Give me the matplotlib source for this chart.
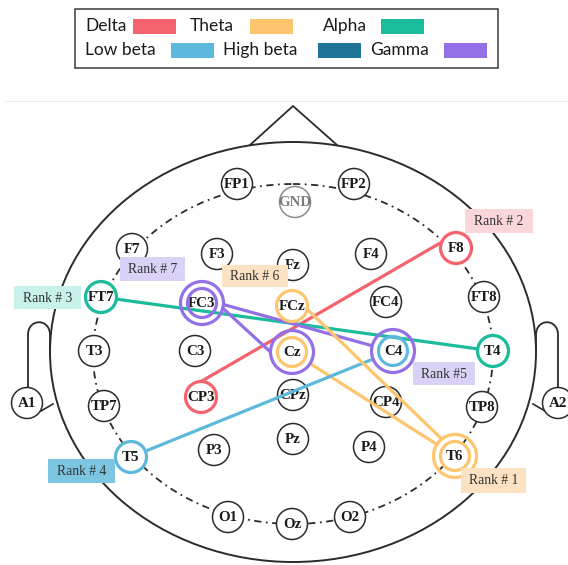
import numpy as np
import matplotlib
matplotlib.use("Agg")
import matplotlib.pyplot as plt
from matplotlib.patches import Circle, Ellipse, Rectangle
from matplotlib.path import Path
from matplotlib.patches import PathPatch

# ---- data -------------------------------------------------------------
bands = ["Delta", "Theta", "Alpha", "Low beta", "High beta", "Gamma"]
band_colors = ["#F4626E", "#FCC56E", "#1BBC9B", "#5DB9DC", "#1F7498", "#9370E6"]
label_fill = {"Delta": "#FAD6DA", "Theta": "#FCE2C2", "Alpha": "#C8F1EA",
              "Low beta": "#7DC6E2", "Gamma": "#DAD2F6"}

# 10-20 montage layout (drawing coordinates, y grows downward)
electrodes = ["FP1", "FP2", "GND",
              "F7", "F3", "Fz", "F4", "F8",
              "FT7", "FC3", "FCz", "FC4", "FT8",
              "T3", "C3", "Cz", "C4", "T4",
              "TP7", "CP3", "CPz", "CP4", "TP8",
              "T5", "P3", "Pz", "P4", "T6",
              "O1", "Oz", "O2", "A1", "A2"]
elec_x = [237, 354, 295,
          132, 217, 293, 371, 456,
          101, 202, 292, 386, 484,
          94, 195, 292, 393, 493,
          104, 201, 293, 386, 482,
          131, 214, 293, 369, 455,
          228, 292, 350, 27, 558]
elec_y = [184, 184, 202,
          249, 254, 265, 254, 248,
          297, 303, 306, 302, 297,
          351, 351, 352, 351, 351,
          406, 397, 395, 402, 407,
          457, 450, 439, 447, 456,
          517, 524, 517, 403, 403]

# ranked connections
conn_rank = [1, 2, 3, 4, 5, 6, 7]
conn_band = ["Theta", "Delta", "Alpha", "Low beta", "Gamma", "Theta", "Gamma"]
conn_src = ["Cz", "F8", "FT7", "T5", "FC3", "FCz", "FC3"]
conn_dst = ["T6", "CP3", "T4", "C4", "C4", "T6", "Cz"]
conn_label = ["Rank # 1", "Rank # 2", "Rank # 3", "Rank # 4", "Rank #5", "Rank # 6", "Rank # 7"]

# ---- layout -----------------------------------------------------------
W, H = 568, 565
fig = plt.figure(figsize=(W / 100, H / 100), dpi=100)
ax = fig.add_axes([0, 0, 1, 1])
ax.set_xlim(0, W)
ax.set_ylim(H, 0)
ax.set_aspect("equal")
ax.axis("off")

pos = {n: (x, y) for n, x, y in zip(electrodes, elec_x, elec_y)}
color_of = dict(zip(bands, band_colors))
ink = "#2b2b2b"
serif = "Liberation Serif"

# faint separator
ax.plot([5, W], [101, 101], color="#ececec", lw=0.8, zorder=0)

# head outline, nose and ears
cx, cy, a, b = 293, 352, 243, 210
ax.add_patch(Ellipse((cx, cy), 2 * a, 2 * b, fill=False, ec=ink, lw=1.4, zorder=1))
ax.plot([250, 293, 337], [145, 106, 145], color=ink, lw=1.3, zorder=1)
for side in (-1, 1):
    def mx(x):
        return x if side < 0 else 2 * cx - x
    verts = [(mx(28), 388), (mx(28), 335),
             (mx(28), 318), (mx(50), 318), (mx(50), 335),
             (mx(50), 350)]
    codes = [Path.MOVETO, Path.LINETO, Path.CURVE4, Path.CURVE4, Path.CURVE4, Path.LINETO]
    ax.add_patch(PathPatch(Path(verts, codes), fill=False, ec=ink, lw=1.3, zorder=1))
    ax.plot([mx(41), mx(53)], [411, 404], color=ink, lw=1.2, zorder=1)

# dash-dot electrode ring
ax.add_patch(Ellipse((293, 354), 400, 340, fill=False, ec=ink, lw=1.3,
                     ls=(0, (4, 2.5, 1, 2.5)), zorder=2))

# rings per highlighted electrode (inner to outer, in rank order)
rings = {}
for band, s, d in zip(conn_band, conn_src, conn_dst):
    for e in (s, d):
        rings.setdefault(e, []).append(band)

r0, dr = 15.5, 6.0
ring_lw = 2.3

# electrodes
for name in electrodes:
    x, y = pos[name]
    is_gnd = name == "GND"
    ec = "#8a8a8a" if is_gnd else ink
    tc = "#7a7a7a" if is_gnd else "#1a1a1a"
    if name in rings:
        ax.add_patch(Circle((x, y), r0, fc="white", ec="none", zorder=3))
        n = len(rings[name])
        for k, band in enumerate(rings[name]):
            r = r0 + k * dr - (1 if k == 0 and n > 1 else 0)
            ax.add_patch(Circle((x, y), r, fill=False, ec=color_of[band],
                                lw=ring_lw, zorder=6))
    else:
        ax.add_patch(Circle((x, y), r0, fc="white", ec=ec, lw=1.1, zorder=3))
    ax.text(x, y + 0.5, name, ha="center", va="center", fontsize=10.8,
            fontweight="bold", family=serif, color=tc, zorder=4)

# connection lines leave each ring at a chosen point on its circumference
def outer_r(e):
    return r0 + (len(rings[e]) - 1) * dr

# exit angle in degrees (0 = right, 90 = down); None = aim at the other end
exit_angle = {2: (-158, -90), 5: (4, None), 6: (12, -128), 7: (14, 180)}

def ring_point(e, ang, toward):
    c = np.array(pos[e], float)
    if ang is None:
        u = np.array(pos[toward], float) - c
        u /= np.linalg.norm(u)
    else:
        t = np.deg2rad(ang)
        u = np.array([np.cos(t), np.sin(t)])
    return c + u * outer_r(e)

for rank, band, s, d in zip(conn_rank, conn_band, conn_src, conn_dst):
    a_s, a_d = exit_angle.get(rank, (None, None))
    q0 = ring_point(s, a_s, d)
    q1 = ring_point(d, a_d, s)
    ax.plot([q0[0], q1[0]], [q0[1], q1[1]], color=color_of[band], lw=2.3,
            solid_capstyle="round", zorder=5)

# rank tags
tag_box = {1: (493.5, 480.5, 65, 25), 2: (499, 221, 68, 24), 3: (47.5, 297.5, 67, 23),
           4: (81.5, 471, 67, 24), 5: (444, 373.5, 62, 23), 6: (255, 276, 66, 22),
           7: (152.5, 269, 65, 24)}
for rank, band, text in zip(conn_rank, conn_band, conn_label):
    x, y, w, h = tag_box[rank]
    ax.add_patch(Rectangle((x - w / 2, y - h / 2), w, h, fc=label_fill[band],
                           ec="none", zorder=7))
    ax.text(x, y + 0.5, text, ha="center", va="center", fontsize=9.8,
            family=serif, color="#333333", zorder=8)

# legend
ax.add_patch(Rectangle((75, 9), 423, 59, fill=False, ec="#3a3a3a", lw=1.1, zorder=9))
legend_slots = {"Delta": (85, 133, 26), "Theta": (190, 250, 26), "Alpha": (323, 381, 26),
                "Low beta": (85, 171, 50), "High beta": (223, 318, 50), "Gamma": (370, 444, 50)}
for band in bands:
    tx, px, y = legend_slots[band]
    ax.text(tx, y, band, ha="left", va="center", fontsize=12.5, family="Lato",
            color="#1a1a1a", zorder=10)
    ax.add_patch(Rectangle((px, y - 7.5), 43, 15, fc=color_of[band], ec="none", zorder=10))

fig.savefig("out.png", dpi=100)
